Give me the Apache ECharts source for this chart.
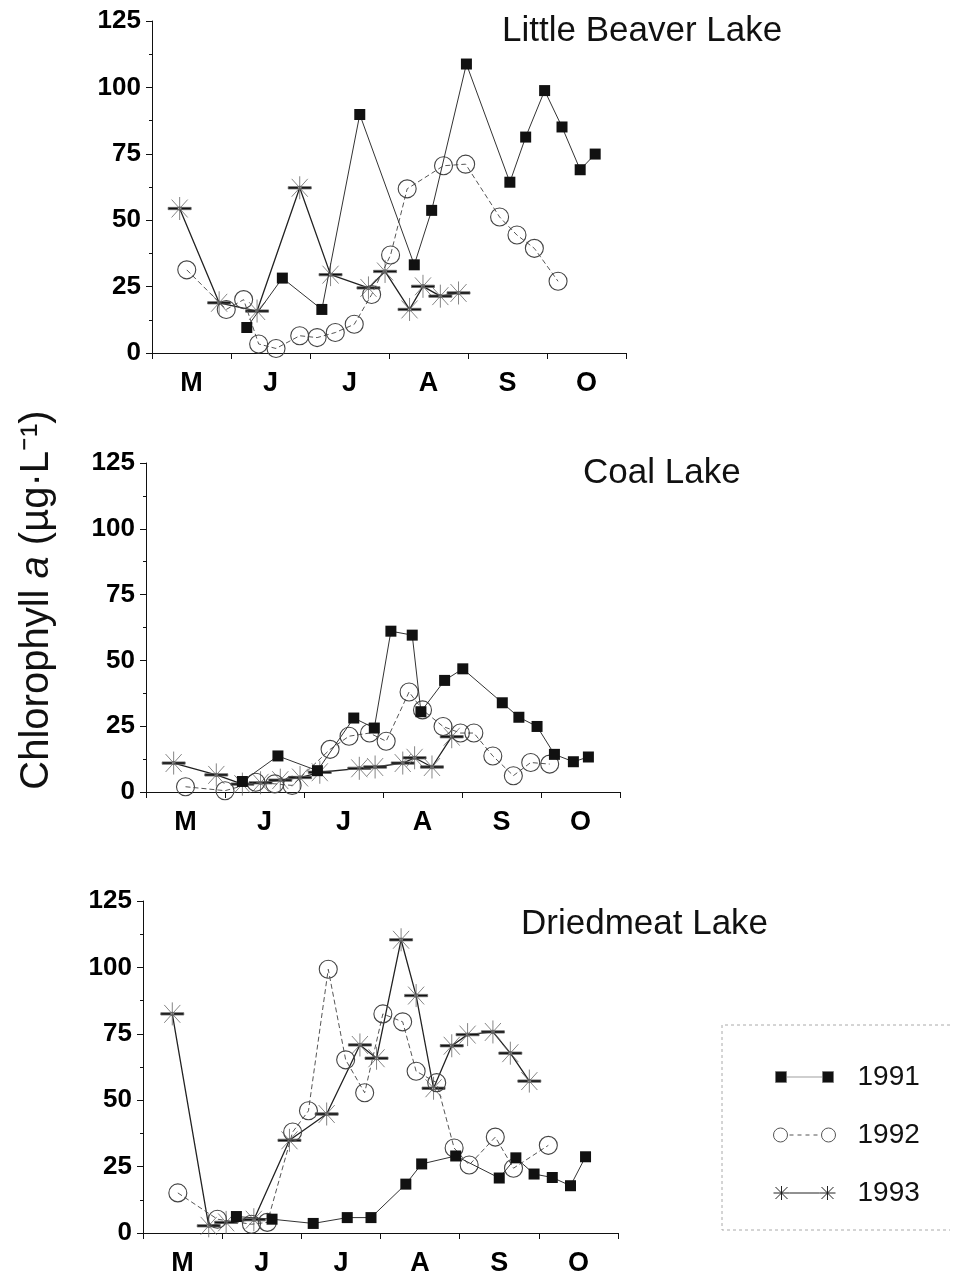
<!DOCTYPE html>
<html>
<head>
<meta charset="utf-8">
<script src="https://cdn.jsdelivr.net/npm/echarts@6/dist/echarts.min.js"></script>
<style>
html,body{margin:0;padding:0;background:#fff;}
#chart{width:956px;height:1280px;}
</style>
</head>
<body>
<div id="chart"></div>
<script>
// ---- Data (x = months since 1 May; y = chlorophyll a, µg/L) ----
const months = ['M', 'J', 'J', 'A', 'S', 'O'];
const yTicks = [0, 25, 50, 75, 100, 125];
const lakes = ['Little Beaver Lake', 'Coal Lake', 'Driedmeat Lake'];
const years = ['1991', '1992', '1993'];

const littleBeaver1991 = [[1.20,9.6],[1.65,28.2],[2.15,16.4],[2.63,89.8],[3.32,33.2],[3.54,53.7],[3.98,108.8],[4.53,64.3],[4.73,81.3],[4.97,98.8],[5.19,85.1],[5.42,69.0],[5.61,74.9]];
const littleBeaver1992 = [[0.44,31.3],[0.94,16.4],[1.16,20.1],[1.35,3.4],[1.57,1.7],[1.87,6.5],[2.09,5.8],[2.32,7.7],[2.56,10.8],[2.78,22.0],[3.02,36.9],[3.23,61.8],[3.69,70.5],[3.97,71.1],[4.40,51.2],[4.62,44.4],[4.84,39.4],[5.14,27.0]];
const littleBeaver1993 = [[0.35,54.4],[0.85,18.9],[1.33,15.8],[1.87,62.2],[2.26,29.5],[2.74,24.5],[2.95,30.7],[3.26,16.4],[3.43,25.1],[3.65,21.4],[3.88,22.6]];

const coal1991 = [[1.22,4.0],[1.67,13.7],[2.17,8.1],[2.63,28.1],[2.89,24.3],[3.10,61.1],[3.37,59.6],[3.48,30.5],[3.78,42.4],[4.01,46.8],[4.51,33.9],[4.72,28.4],[4.95,24.9],[5.17,14.3],[5.41,11.5],[5.60,13.3]];
const coal1992 = [[0.50,2.0],[1.00,0.5],[1.39,3.7],[1.63,3.1],[1.85,2.5],[2.33,16.2],[2.57,21.2],[2.83,22.4],[3.04,19.3],[3.33,38.0],[3.50,31.2],[3.76,24.9],[3.98,22.4],[4.15,22.4],[4.39,13.7],[4.65,6.2],[4.87,11.2],[5.11,10.6]];
const coal1993 = [[0.35,11.0],[0.89,6.5],[1.22,3.0],[1.45,3.5],[1.70,4.5],[1.95,5.5],[2.20,7.5],[2.70,9.0],[2.90,9.5],[3.25,11.0],[3.40,13.0],[3.62,9.5],[3.87,21.0]];

const driedmeat1991 = [[1.18,6.2],[1.63,5.2],[2.15,3.6],[2.58,5.8],[2.88,5.8],[3.32,18.4],[3.52,26.0],[3.95,29.0],[4.50,20.7],[4.71,28.3],[4.94,22.2],[5.17,20.9],[5.40,17.8],[5.59,28.7]];
const driedmeat1992 = [[0.44,15.1],[0.94,5.2],[1.37,3.3],[1.57,4.0],[1.89,38.0],[2.09,46.0],[2.34,99.3],[2.56,65.2],[2.80,52.8],[3.03,82.5],[3.28,79.5],[3.45,60.9],[3.71,56.6],[3.93,32.0],[4.12,25.6],[4.45,36.1],[4.68,24.4],[5.12,33.0]];
const driedmeat1993 = [[0.37,82.5],[0.83,2.7],[1.05,4.0],[1.40,5.0],[1.85,34.9],[2.32,44.8],[2.74,70.8],[2.95,65.8],[3.26,110.4],[3.45,89.4],[3.67,54.5],[3.90,70.5],[4.10,74.7],[4.42,75.7],[4.64,67.7],[4.88,57.2]];

const lakeData = [
  [littleBeaver1991, littleBeaver1992, littleBeaver1993],
  [coal1991, coal1992, coal1993],
  [driedmeat1991, driedmeat1992, driedmeat1993]
];

// ---- Layout / style ----
const FONT = '"Liberation Sans", Arial, sans-serif';
const grids = [
  {left: 152, top: 21, width: 474, height: 332},
  {left: 146, top: 463, width: 474, height: 329},
  {left: 143, top: 901, width: 475, height: 332}
];
const titlePos = [
  {left: 502, top: 14},
  {left: 583, top: 456},
  {left: 521, top: 907}
];
const starPath = 'path://M0,9.1L20,9.1L20,10.9L0,10.9Z M10,1L10,19 M3,3L17,17 M17,3L3,17 M8.6,10a1.4,1.4 0 1,0 2.8,0a1.4,1.4 0 1,0 -2.8,0Z';
const yearStyle = [
  {symbol: 'rect', symbolSize: 11, itemStyle: {color: '#111', borderColor: '#111', borderWidth: 0},
   lineStyle: {color: '#333', width: 1, type: 'solid'}},
  {symbol: 'circle', symbolSize: 18, itemStyle: {color: 'rgba(0,0,0,0)', borderColor: '#444', borderWidth: 1.1},
   lineStyle: {color: '#555', width: 1, type: [5, 3]}},
  {symbol: starPath, symbolSize: 23, itemStyle: {color: '#111', borderColor: '#666', borderWidth: 0.8},
   lineStyle: {color: '#222', width: 1.3, type: 'solid'}}
];
// legend icons (two markers joined by a line), drawn in a 64x16 box
const legendIcons = [
  'path://M0,0L0,0 M64,16L64,16 M3,2.5L14,2.5L14,13.5L3,13.5Z M50,2.5L61,2.5L61,13.5L50,13.5Z M14,8L50,8',
  'path://M0,0L0,0 M64,16L64,16 M1,8a7,7 0 1,0 14,0a7,7 0 1,0 -14,0Z M49,8a7,7 0 1,0 14,0a7,7 0 1,0 -14,0Z M17,8L21,8 M25,8L29,8 M33,8L37,8 M41,8L45,8',
  'path://M0,0L0,0 M64,16L64,16 M1,8L17,8 M9,1L9,15 M3,2L15,14 M15,2L3,14 M47,8L63,8 M55,1L55,15 M49,2L61,14 M61,2L49,14 M17,8L47,8'
];
const legendItemStyles = [
  {color: '#111', borderColor: '#777', borderWidth: 0.7},
  {color: 'rgba(0,0,0,0)', borderColor: '#555', borderWidth: 1},
  {color: 'rgba(0,0,0,0)', borderColor: '#222', borderWidth: 1}
];

const xAxes = [], yAxes = [], series = [], titles = [];
grids.forEach((g, i) => {
  xAxes.push({
    type: 'category', gridIndex: i, data: months, boundaryGap: true,
    axisLine: {show: true, lineStyle: {color: '#111', width: 1}},
    axisTick: {show: true, length: 6, inside: false, alignWithLabel: false, lineStyle: {color: '#111'}},
    axisLabel: {fontFamily: FONT, fontSize: 27, fontWeight: 'bold', color: '#000', margin: 17},
    splitLine: {show: false}
  });
  xAxes.push({type: 'value', gridIndex: i, min: 0, max: 6, show: false});
  yAxes.push({
    type: 'value', gridIndex: i, min: yTicks[0], max: yTicks[yTicks.length - 1], interval: 25,
    axisLine: {show: true, lineStyle: {color: '#111', width: 1}},
    axisTick: {show: true, length: 6, inside: false, lineStyle: {color: '#111'}},
    minorTick: {show: true, splitNumber: 2, length: 3, lineStyle: {color: '#111'}},
    axisLabel: {fontFamily: FONT, fontSize: 26, fontWeight: 'bold', color: '#000', margin: 11},
    splitLine: {show: false}
  });
  titles.push({
    text: lakes[i], left: titlePos[i].left, top: titlePos[i].top, padding: 0,
    textStyle: {fontFamily: FONT, fontSize: 35, fontWeight: 'normal', color: '#111'}
  });
  lakeData[i].forEach((d, k) => {
    const st = yearStyle[k];
    series.push({
      name: years[k], type: 'line', xAxisIndex: 2 * i + 1, yAxisIndex: i,
      data: d, symbol: st.symbol, symbolSize: st.symbolSize, showAllSymbol: true,
      itemStyle: st.itemStyle, lineStyle: st.lineStyle, z: 10 - k,
      animation: false, silent: true
    });
  });
});

const chart = echarts.init(document.getElementById('chart'), null, {renderer: 'canvas'});
chart.setOption({
  backgroundColor: '#fff',
  animation: false,
  title: titles,
  grid: grids,
  xAxis: xAxes,
  yAxis: yAxes,
  series: series,
  legend: {
    data: years.map((y, k) => ({name: y, icon: legendIcons[k], itemStyle: legendItemStyles[k]})),
    orient: 'vertical', left: 722, top: 1025,
    padding: [38, 10, 20, 50], itemGap: 30, itemWidth: 64, itemHeight: 16,
    symbolKeepAspect: false,
    textStyle: {fontFamily: FONT, fontSize: 28, color: '#111', padding: [0, 0, 0, 16]},
    selectedMode: false
  },
  graphic: [
    {type: 'polyline', silent: true,
     shape: {points: [[950, 1025], [722, 1025], [722, 1230], [950, 1230]]},
     style: {fill: 'none', stroke: '#aaa', lineWidth: 1, lineDash: [3, 3]}},
    {type: 'text', x: 37, y: 600, rotation: Math.PI / 2, silent: true,
     style: {
       text: '{n|Chlorophyll }{i|a}{n| (µg·L⁻¹)}',
       align: 'center', verticalAlign: 'middle', fill: '#111',
       rich: {
         n: {fontFamily: FONT, fontSize: 40, fill: '#111'},
         i: {fontFamily: FONT, fontSize: 40, fontStyle: 'italic', fill: '#111'}
       }
     }}
  ]
});
</script>
</body>
</html>
